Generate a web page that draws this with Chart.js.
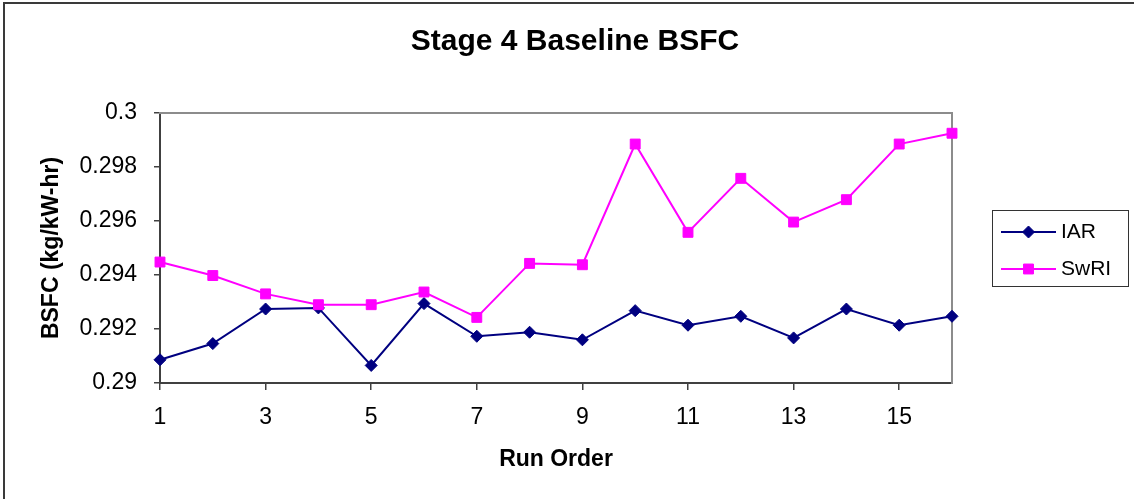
<!DOCTYPE html>
<html>
<head>
<meta charset="utf-8">
<title>Stage 4 Baseline BSFC</title>
<script src="https://cdn.jsdelivr.net/npm/chart.js@4/dist/chart.umd.min.js"></script>
<style>
  html, body { margin: 0; padding: 0; background: #fff; }
  #wrap { width: 1134px; height: 499px; }
</style>
</head>
<body>
<div id="wrap"><canvas id="bsfc" width="1134" height="499"></canvas></div>
<script>
// Run order on the x axis
const runOrder = [1, 2, 3, 4, 5, 6, 7, 8, 9, 10, 11, 12, 13, 14, 15, 16];

// Brake specific fuel consumption, kg/kW-hr
const iarBsfc = [0.29086, 0.29146, 0.29274, 0.29278, 0.29065, 0.29294, 0.29173, 0.29188,
                 0.29160, 0.29268, 0.29214, 0.29247, 0.29167, 0.29274, 0.29214, 0.29247];
const swriBsfc = [0.29448, 0.29398, 0.29330, 0.29290, 0.29290, 0.29337, 0.29243, 0.29443,
                  0.29438, 0.29885, 0.29558, 0.29758, 0.29596, 0.29679, 0.29885, 0.29925];

const seriesNames = ['IAR', 'SwRI'];

// Tick positions
const xTickValues = [1, 3, 5, 7, 9, 11, 13, 15];
const yTickValues = [0.29, 0.292, 0.294, 0.296, 0.298, 0.3];

const FONT = "'Liberation Sans', Arial, Helvetica, sans-serif";
Chart.defaults.font.family = FONT;
Chart.defaults.color = '#000';

const toPoints = vals => vals.map((v, i) => ({ x: runOrder[i], y: v }));

// White page with the outer frame line
const outerFrame = {
  id: 'outerFrame',
  beforeDraw(chart) {
    const ctx = chart.ctx;
    ctx.save();
    ctx.fillStyle = '#fff';
    ctx.fillRect(0, 0, chart.width, chart.height);
    ctx.strokeStyle = '#3a3a3a';
    ctx.lineWidth = 2;
    ctx.strokeRect(4, 3, chart.width + 20, chart.height + 20);
    ctx.restore();
  }
};

// Boxed legend with line-and-marker samples
function drawMarker(ctx, style, r, x, y) {
  ctx.beginPath();
  if (style === 'rectRot') {
    ctx.moveTo(x - r, y);
    ctx.lineTo(x, y - r);
    ctx.lineTo(x + r, y);
    ctx.lineTo(x, y + r);
  } else {
    const h = Math.SQRT1_2 * r;
    ctx.rect(x - h, y - h, 2 * h, 2 * h);
  }
  ctx.closePath();
  ctx.fill();
  ctx.stroke();
}

const boxedLegend = {
  id: 'boxedLegend',
  afterDraw(chart) {
    const ctx = chart.ctx;
    const box = { x: 992, y: 210, w: 136, h: 76 };
    ctx.save();
    ctx.strokeStyle = '#333';
    ctx.lineWidth = 1;
    ctx.strokeRect(box.x + 0.5, box.y + 0.5, box.w, box.h);
    seriesNames.forEach((name, i) => {
      const ds = chart.data.datasets.find(d => d.label === name);
      const y = 232 + i * 37;
      ctx.strokeStyle = ds.borderColor;
      ctx.lineWidth = ds.borderWidth;
      ctx.beginPath();
      ctx.moveTo(1001, y);
      ctx.lineTo(1056, y);
      ctx.stroke();
      ctx.fillStyle = ds.pointBackgroundColor;
      ctx.strokeStyle = ds.pointBorderColor;
      ctx.lineWidth = ds.pointBorderWidth;
      drawMarker(ctx, ds.pointStyle, ds.pointRadius, 1028.5, y);
      ctx.fillStyle = '#000';
      ctx.font = '21px ' + FONT;
      ctx.textAlign = 'left';
      ctx.textBaseline = 'middle';
      ctx.fillText(name, 1061, y);
    });
    ctx.restore();
  }
};

new Chart(document.getElementById('bsfc'), {
  type: 'line',
  data: {
    datasets: [
      {
        label: seriesNames[0],
        data: toPoints(iarBsfc),
        borderColor: '#000080',
        backgroundColor: '#000080',
        borderWidth: 2,
        pointStyle: 'rectRot',
        pointRadius: 6,
        pointBorderWidth: 1,
        pointBackgroundColor: '#000080',
        pointBorderColor: '#000080',
        tension: 0,
        clip: false,
        order: 2
      },
      {
        label: seriesNames[1],
        data: toPoints(swriBsfc),
        borderColor: '#FF00FF',
        backgroundColor: '#FF00FF',
        borderWidth: 2,
        pointStyle: 'rect',
        pointRadius: 7,
        pointBorderWidth: 1,
        pointBackgroundColor: '#FF00FF',
        pointBorderColor: '#FF00FF',
        tension: 0,
        clip: false,
        order: 1
      }
    ]
  },
  options: {
    responsive: false,
    animation: false,
    devicePixelRatio: 1,
    layout: { padding: { left: 16, right: 0, top: 0, bottom: 0 } },
    plugins: {
      legend: { display: false },
      tooltip: { enabled: false },
      title: {
        display: true,
        text: 'Stage 4 Baseline BSFC',
        color: '#000',
        font: { size: 30, weight: 'bold' },
        padding: { top: 24, bottom: 53 }
      }
    },
    scales: {
      x: {
        type: 'linear',
        position: 'bottom',
        min: 1,
        max: 16,
        afterBuildTicks: s => { s.ticks = xTickValues.map(v => ({ value: v })); },
        afterFit: s => { s.height = 116; },
        ticks: { font: { size: 23 }, padding: 14, color: '#000', autoSkip: false, maxRotation: 0 },
        grid: { drawOnChartArea: false, tickLength: 7, color: '#404040', lineWidth: 1.5 },
        border: { color: '#404040', width: 2 },
        title: {
          display: true,
          text: 'Run Order',
          color: '#000',
          font: { size: 23, weight: 'bold' },
          padding: { top: 0, bottom: 26 }
        }
      },
      y: {
        type: 'linear',
        position: 'left',
        min: 0.29,
        max: 0.3,
        afterBuildTicks: s => { s.ticks = yTickValues.map(v => ({ value: v })); },
        afterFit: s => { s.width = 144; },
        ticks: {
          font: { size: 23 },
          padding: 17,
          color: '#000',
          callback: v => String(Number(Number(v).toFixed(3)))
        },
        grid: { drawOnChartArea: false, tickLength: 6, color: '#404040', lineWidth: 1.5 },
        border: { color: '#404040', width: 2 },
        title: {
          display: true,
          text: 'BSFC (kg/kW-hr)',
          color: '#000',
          font: { size: 23, weight: 'bold' },
          padding: { top: 22, bottom: 0 }
        }
      },
      // Plot-area frame: top edge
      frameTop: {
        type: 'linear',
        position: 'top',
        display: true,
        ticks: { display: false },
        grid: { display: false, drawTicks: false },
        border: { color: '#8c8c8c', width: 2 },
        afterFit: s => { s.height = 0; }
      },
      // Plot-area frame: right edge, also reserving the legend column
      frameRight: {
        type: 'linear',
        position: 'right',
        display: true,
        ticks: { display: false },
        grid: { display: false, drawTicks: false },
        border: { color: '#8c8c8c', width: 2 },
        afterFit: s => { s.width = 182; }
      }
    }
  },
  plugins: [outerFrame, boxedLegend]
});
</script>
</body>
</html>
